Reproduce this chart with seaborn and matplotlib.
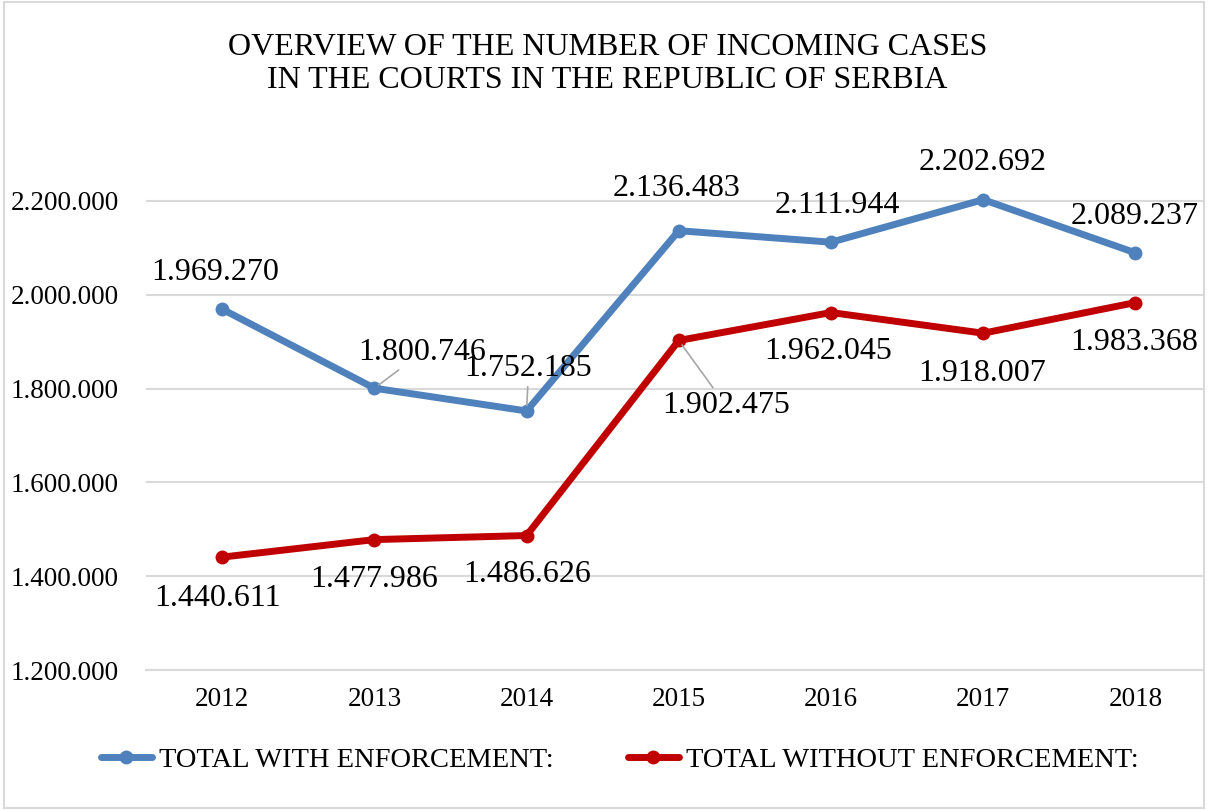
import matplotlib
matplotlib.use("Agg")
import matplotlib.pyplot as plt
import matplotlib.ticker as mticker
from matplotlib.patches import Rectangle
import pandas as pd
import seaborn as sns

years = [2012, 2013, 2014, 2015, 2016, 2017, 2018]
with_enforcement = [1969270, 1800746, 1752185, 2136483, 2111944, 2202692, 2089237]
without_enforcement = [1440611, 1477986, 1486626, 1902475, 1962045, 1918007, 1983368]
series_names = ["TOTAL WITH ENFORCEMENT:", "TOTAL WITHOUT ENFORCEMENT:"]
title = "OVERVIEW OF THE NUMBER OF INCOMING CASES\nIN THE COURTS IN THE REPUBLIC OF SERBIA"

# label offsets in pixels (dx, dy) and whether a leader line is drawn
blue_offsets = [(-7, 37), (48, 36), (2, 42), (-2, 42), (6, 37), (-1, 37), (-1, 36)]
blue_leader = [False, True, True, False, False, False, False]
red_offsets = [(-5, -41), (0, -40), (1, -39), (47, -65), (-3, -39), (-1, -40), (-1, -40)]
red_leader = [False, False, False, True, False, False, False]

sns.set_theme(style="white")
plt.rcParams["font.family"] = ["Liberation Serif", "DejaVu Serif"]
plt.rcParams["text.color"] = "black"

df = pd.DataFrame({
    "year": years * 2,
    "value": with_enforcement + without_enforcement,
    "series": [series_names[0]] * len(years) + [series_names[1]] * len(years),
})

fig = plt.figure(figsize=(12.08, 8.10), dpi=100)
ax = fig.add_axes([146 / 1208, (810 - 670) / 810, 1058 / 1208, (670 - 154) / 810])

palette = {series_names[0]: "#4F81BD", series_names[1]: "#C00000"}
sns.lineplot(data=df, x="year", y="value", hue="series", palette=palette,
             marker="o", markersize=10, markeredgewidth=0, linewidth=5,
             ax=ax, legend=True)

ax.set_xlim(years[0] - 0.5, years[-1] + 0.45)
ax.set_ylim(1200000, 2300000)
ax.set_yticks([1200000, 1400000, 1600000, 1800000, 2000000, 2200000])
ax.set_xticks(years)
ax.yaxis.set_major_formatter(mticker.FuncFormatter(lambda v, p: f"{int(v):,}".replace(",", ".")))
ax.grid(axis="y", color="#D9D9D9", linewidth=1.5)
ax.set_axisbelow(True)
for s in ["top", "right", "left"]:
    ax.spines[s].set_visible(False)
ax.spines["bottom"].set_color("#D9D9D9")
ax.spines["bottom"].set_linewidth(1.5)
ax.tick_params(axis="both", length=0, labelsize=19.5, colors="black")
ax.tick_params(axis="x", pad=12)
ax.tick_params(axis="y", pad=19.5)
ax.set_xlabel("")
ax.set_ylabel("")


def fmt(v):
    return f"{v:,}".replace(",", ".")


for vals, offs, leads in [(with_enforcement, blue_offsets, blue_leader),
                          (without_enforcement, red_offsets, red_leader)]:
    for x, v, (dx, dy), lead in zip(years, vals, offs, leads):
        ax.annotate(fmt(v), xy=(x, v), xytext=(dx, dy), textcoords="offset pixels",
                    ha="center", va="center", fontsize=23, color="black",
                    arrowprops=dict(arrowstyle="-", color="#A6A6A6", lw=1.2,
                                    shrinkA=0, shrinkB=4) if lead else None)

fig.text(0.503, 1 - 64 / 810, title, ha="center", va="center", fontsize=23,
         linespacing=1.2)

handles, labels = ax.get_legend_handles_labels()
ax.legend(handles, labels, loc="center", bbox_to_anchor=(0.513, 1 - 760 / 810),
          bbox_transform=fig.transFigure, ncol=2, frameon=False, fontsize=20.5,
          handlelength=1.8, handletextpad=0.25, columnspacing=2.6)

fig.patches.append(Rectangle((0.003, 0.003), 0.994, 0.994, transform=fig.transFigure,
                             fill=False, edgecolor="#D9D9D9", linewidth=1.5))

fig.savefig("out.png", dpi=100, facecolor="white")
